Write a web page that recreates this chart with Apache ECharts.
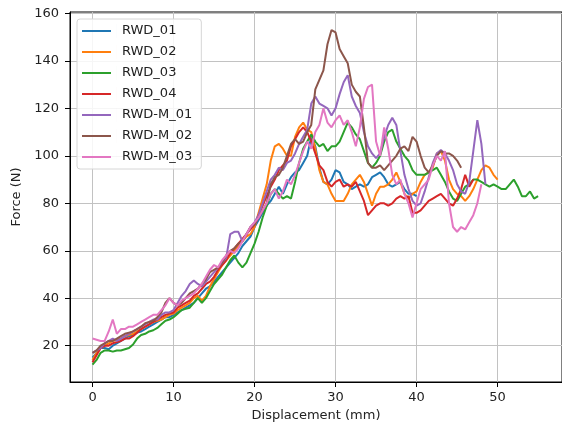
<!DOCTYPE html>
<html>
<head>
<meta charset="utf-8">
<script src="https://cdn.jsdelivr.net/npm/echarts@6/dist/echarts.min.js"></script>
<style>html,body{margin:0;padding:0;background:#fff;}#chart{width:562px;height:429px;}</style>
</head>
<body>
<div id="chart"></div>
<script>
// Displacement (mm) sample positions
const displacement = [0,0.5,1,1.5,2,2.5,3,3.5,4,4.5,5,5.5,6,6.5,7,7.5,8,8.5,9,9.5,10,10.5,11,11.5,12,12.5,13,13.5,14,14.5,15,15.5,16,16.5,17,17.5,18,18.5,19,19.5,20,20.5,21,21.5,22,22.5,23,23.5,24,24.5,25,25.5,26,26.5,27,27.5,28,28.5,29,29.5,30,30.5,31,31.5,32,32.5,33,33.5,34,34.5,35,35.5,36,36.5,37,37.5,38,38.5,39,39.5,40,40.5,41,41.5,42,42.5,43,43.5,44,44.5,45,45.5,46,46.5,47,47.5,48,48.5,49,49.5,50,50.5,51,51.5,52,52.5,53,53.5,54,54.5,55];

const seriesNames = ['RWD_01','RWD_02','RWD_03','RWD_04','RWD-M_01','RWD-M_02','RWD-M_03'];

const rwd01 = [15,17,19,19,18.5,20,21,22,23,24,24.5,25.5,26,27,28,29,30,31,32,32,33,34,35,36,37,38,40,42,44,45,47,49,51,53,55,57,59,62,64,66,70,
  73,76,79,81,84,87,84,88,91,93,94,97,100,108,104,95,89,88,90,94,93,89,88,86,87,88,87,88,91,92,93,91,88,87,88,89,86,84,84,83];

const rwd02 = [14,17,19,20,21,22,22.5,23,24,24.5,25,26,27,28,29,30,30.5,31,32,33,33.5,35,36,37,38,40,41,39,41,45,48,51,54,56,58,60,62,64,66,67,70,
  76,82,88,98,104,105,103,100,100,108,112,114,111,110,103,94,89,88,84,81,81,81,84,88,90,92,89,84,79,84,87,87,88,90,93,89,84,82,84,85,
  89,92,93,95,101,102,98,90,86,84,83,81,83,86,90,94,96,95,92,90];

const rwd03 = [12,14,17,18,18,17.5,18,18,18.5,19,20.5,23,24.5,25,26,26.5,27.5,29,30.5,31,32,33.5,35,35.5,36,38,40,38,40,43,46,48,50,53,56,58,55,53,55,59,63,
  68,74,79,84,86,84,82,83,82,89,97,103,106,109,106,104,105,102,104,104,106,110,114,112,109,107,102,97,95,97,100,106,110,111,106,103,100,98,94,92,
  92,92,93,94,95,92,89,85,82,81,84,87,88,90,90,89,88,87,88,87,86,86,88,90,87,83,83,85,82,83];

const rwd04 = [13,16,19,20,20,21,21.5,22,23,23,24,25.5,27,28,29,30,31,32,33,33.5,34,36,37,38,39,41,42,44,46,47,49,52,54,56,59,61,63,65,67,69,71,
  75,79,83,87,90,94,96,98,104,107,110,112,110,106,101,96,94,89,87,89,90,87,88,87,89,85,81,75,77,79,80,80,79,80,82,83,82,83,76,76,
  77,79,81,82,83,84,82,80,79,82,86,92,87,90];

const rwdM01 = [17,18,19,21,22,23,22,23,24,25,26,27,28,29,30,31,31,33,34,34,35,38,41,43,46,47.5,46,45,47,49,51,53,55,57,67,68,68,64,67,70,72,
  75,80,85,90,92,95,94,97,98,101,105,108,111,122,125,122,121,120,117,120,126,131,134,125,121,118,110,104,101,99,101,108,113,116,113,102,92,86,81,79,
  80,85,91,97,101,102.5,101,98,94,88,85,84,89,102,115,105,88];

const rwdM02 = [17,18,20,21,22,22,23,24,25,25.5,26,27,28,29.5,30,30.5,32,34,38,40,38,37,38,40,42,43,44,46,48,51,52,53,55,58,60,61,63,64,67,70,71,
  74,77,80,88,91,92,95,100,105,107,105,106,110,113,128,132,136,147,153,152,145,142,139,130,127,125,112,97,95,95,96,94,96,98,100,103,104,102,108,106,
  100,95,93,96,100,102,101,101,100,98,95];

const rwdM03 = [23,22.5,22,22,26,31,25,27,27,28,28,29,30,31,32,33,33,35,37,40,38,37,39,40,41,42,44,46,49,52,54,53,56,58,60,59,61,64,67,70,72,
  74,77,80,84,86,82,85,90,88,92,97,102,106,103,110,113,120,114,112,115,117,113,115,110,104,112,124,129,130,106,100,112,103,92,88,90,84,80,74,80,
  86,88,90,96,100,98,102,80,70,68,70,69,72,75,80,88];

const xTicks = [0,10,20,30,40,50];
const yTicks = [20,40,60,80,100,120,140,160];

const colors = ['#1f77b4','#ff7f0e','#2ca02c','#d62728','#9467bd','#8c564b','#e377c2'];
const allY = [rwd01, rwd02, rwd03, rwd04, rwdM01, rwdM02, rwdM03];

const series = allY.map((ys, k) => ({
  name: seriesNames[k],
  type: 'line',
  data: ys.map((v, i) => [displacement[i], v]),
  symbol: 'none',
  showSymbol: false,
  lineStyle: { width: 2, color: colors[k] },
  itemStyle: { color: colors[k] },
  animation: false
}));

const font = 'DejaVu Sans';
const chart = echarts.init(document.getElementById('chart'), null, { renderer: 'canvas' });
chart.setOption({
  animation: false,
  backgroundColor: '#fff',
  color: colors,
  grid: { left: 70, right: -10, top: 12, bottom: 47, show: true, borderColor: '#000', borderWidth: 1, backgroundColor: 'transparent' },
  legend: {
    orient: 'vertical',
    left: 77, top: 19,
    data: seriesNames,
    icon: 'path://M0,6H29V8H0Z M35,0H35.01V14H35Z',
    itemWidth: 35, itemHeight: 14, itemGap: 7,
    padding: [5, 9, 5, 5],
    backgroundColor: 'rgba(255,255,255,0.85)',
    borderColor: '#d6d6d6', borderWidth: 1, borderRadius: 3,
    textStyle: { fontFamily: font, fontSize: 13, color: '#222', lineHeight: 14 },
    selectedMode: false
  },
  xAxis: {
    type: 'value', min: -2.78, max: 57.95,
    name: 'Displacement (mm)', nameLocation: 'middle', nameGap: 26,
    nameTextStyle: { fontFamily: font, fontSize: 13, color: '#222' },
    axisLine: { show: true, onZero: false, lineStyle: { color: '#000', width: 1 } },
    axisTick: { show: true, inside: false, length: 5, customValues: xTicks, lineStyle: { color: '#000', width: 1 } },
    axisLabel: { customValues: xTicks, fontFamily: font, fontSize: 13, color: '#222', margin: 9 },
    splitLine: { show: true, lineStyle: { color: '#c2c2c2', width: 1 } }
  },
  yAxis: {
    type: 'value', min: 4.7, max: 160.6,
    name: 'Force (N)', nameLocation: 'middle', nameGap: 42, nameRotate: 90,
    nameTextStyle: { fontFamily: font, fontSize: 13, color: '#222' },
    axisLine: { show: true, onZero: false, lineStyle: { color: '#000', width: 1 } },
    axisTick: { show: true, inside: false, length: 5, customValues: yTicks, lineStyle: { color: '#000', width: 1 } },
    axisLabel: { customValues: yTicks, fontFamily: font, fontSize: 13, color: '#222', margin: 11 },
    splitLine: { show: true, lineStyle: { color: '#c2c2c2', width: 1 } }
  },
  series: series
});
</script>
</body>
</html>
